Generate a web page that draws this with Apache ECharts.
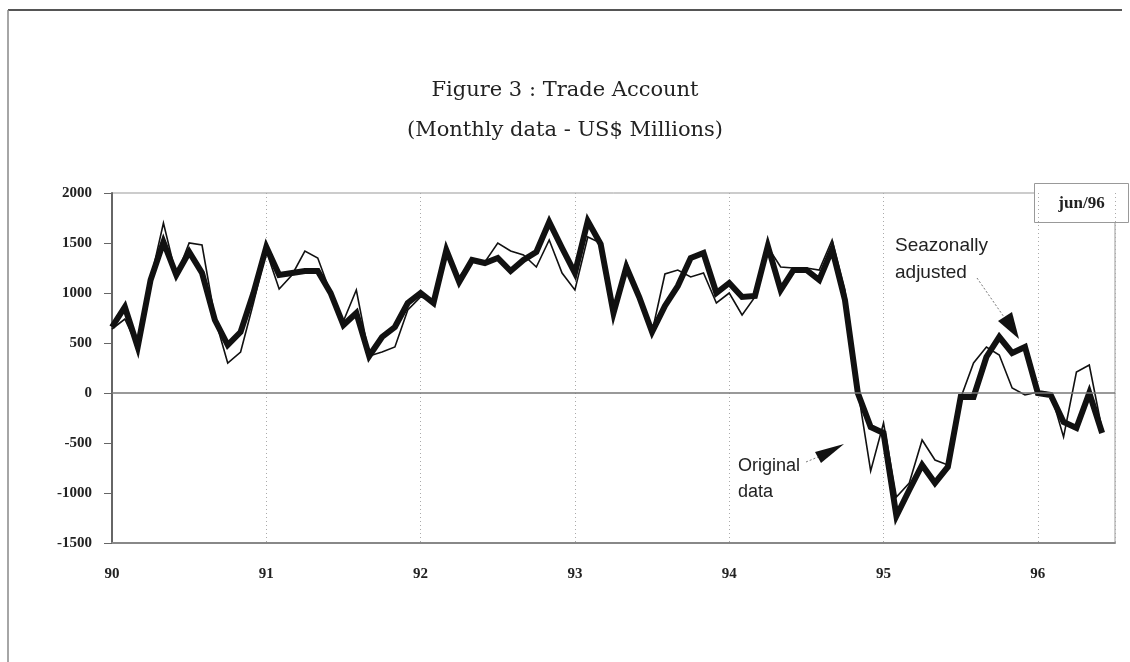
<!DOCTYPE html>
<html>
<head>
<meta charset="utf-8">
<script src="https://cdn.jsdelivr.net/npm/echarts@6/dist/echarts.min.js"></script>
<style>
  html, body { margin: 0; padding: 0; background: #fff; }
  #chart { width: 1130px; height: 662px; }
</style>
</head>
<body>
<div id="chart"></div>
<script>
// year tick labels on the x axis
const yearLabels = ["90", "91", "92", "93", "94", "95", "96"];
const firstYear = 90;

// monthly data jan/90 .. jun/96, US$ millions
const originalData = [
  640, 740, 460, 1130, 1700, 1170, 1500, 1480, 750, 300, 410, 900,
  1420, 1040, 1180, 1420, 1350, 1000, 720, 1030, 370, 410, 460, 830,
  960, 930, 1380, 1160, 1330, 1310, 1500, 1420, 1380, 1260, 1530, 1200,
  1030, 1560, 1500, 800, 1310, 960, 610, 1190, 1230, 1160, 1200, 900,
  1000, 780, 960, 1460, 1260, 1250, 1250, 1230, 1530, 1030, 30, -780,
  -300, -1040, -900, -470, -670, -720, -50, 300, 460, 380, 50, -20,
  10, 0, -440, 210, 280, -370
];
const adjustedData = [
  660, 860, 460, 1130, 1510, 1180, 1410, 1200, 730, 480, 610, 1000,
  1460, 1180, 1200, 1220, 1220, 1000, 680, 800, 370, 560, 660, 900,
  1000, 900, 1430, 1110, 1330, 1300, 1350, 1220, 1330, 1410, 1710, 1450,
  1200, 1720, 1490, 800, 1260, 960, 610, 870, 1070, 1350, 1400, 1000,
  1100, 960, 970, 1470, 1030, 1230, 1230, 1130, 1440, 930, 0, -340,
  -400, -1230, -970, -720, -900, -740, -40, -40, 360, 560, 400, 460,
  0, -20, -290, -350, 0, -400
];

// month index -> position on the year axis
const toPoints = arr => arr.map((v, i) => [firstYear + i / 12, v]);

const serif = "Liberation Serif";
const chart = echarts.init(document.getElementById("chart"));

const option = {
  backgroundColor: "#fff",
  animation: false,
  title: {
    text: "Figure 3 : Trade Account\n(Monthly data - US$ Millions)",
    left: "center",
    top: 66,
    textStyle: {
      fontFamily: "DejaVu Serif",
      fontSize: 21,
      fontWeight: "normal",
      color: "#222",
      lineHeight: 40
    }
  },
  grid: {
    left: 112,
    right: 15,
    top: 193,
    bottom: 119,
    show: true,
    borderColor: "#999",
    borderWidth: 1
  },
  xAxis: {
    type: "value",
    min: 90,
    max: 96.5,
    interval: 1,
    axisLine: { show: true, onZero: false, lineStyle: { color: "#888", width: 2 } },
    axisTick: { show: false },
    axisLabel: {
      margin: 24,
      fontFamily: serif,
      fontWeight: "bold",
      fontSize: 15,
      color: "#222",
      showMaxLabel: false,
      formatter: v => {
        const k = Math.round(v - firstYear);
        return Math.abs(v - firstYear - k) < 1e-6 && yearLabels[k] ? yearLabels[k] : "";
      }
    },
    splitLine: {
      show: true,
      lineStyle: { color: "#aaa", type: [1, 3], width: 1 }
    }
  },
  yAxis: {
    type: "value",
    min: -1500,
    max: 2000,
    interval: 500,
    axisLine: { show: true, onZero: false, lineStyle: { color: "#666", width: 2 } },
    axisTick: { show: true, inside: false, length: 8, lineStyle: { color: "#666" } },
    axisLabel: {
      margin: 20,
      fontFamily: serif,
      fontWeight: "bold",
      fontSize: 15,
      color: "#222",
      formatter: v => String(v)
    },
    splitLine: { show: false }
  },
  series: [
    {
      name: "Original data",
      type: "line",
      data: toPoints(originalData),
      showSymbol: false,
      lineStyle: { color: "#111", width: 1.6, join: "miter" },
      z: 3,
      markLine: {
        silent: true,
        symbol: "none",
        label: { show: false },
        lineStyle: { color: "#777", type: "solid", width: 1.5 },
        data: [{ yAxis: 0 }]
      }
    },
    {
      name: "Seazonally adjusted",
      type: "line",
      data: toPoints(adjustedData),
      showSymbol: false,
      lineStyle: { color: "#111", width: 6, join: "miter", cap: "butt" },
      z: 2
    }
  ],
  graphic: [
    // outer frame of the figure
    { type: "line", shape: { x1: 8, y1: 10, x2: 1122, y2: 10 }, style: { stroke: "#555", lineWidth: 2 } },
    { type: "line", shape: { x1: 8, y1: 10, x2: 8, y2: 662 }, style: { stroke: "#888", lineWidth: 1.5 } },
    // date box
    {
      type: "group",
      left: 1034,
      top: 183,
      z: 100,
      children: [
        { type: "rect", shape: { x: 0, y: 0, width: 94, height: 39 }, style: { fill: "#fff", stroke: "#999", lineWidth: 1 } },
        {
          type: "text",
          x: 47, y: 20,
          style: {
            text: "jun/96", fontFamily: serif, fontWeight: "bold", fontSize: 17,
            fill: "#222", align: "center", verticalAlign: "middle"
          }
        }
      ]
    },
    // annotation: seasonally adjusted
    {
      type: "text", left: 895, top: 232, z: 100,
      style: { text: "Seazonally\nadjusted", fontFamily: "Liberation Sans", fontSize: 19, lineHeight: 27, fill: "#222" }
    },
    { type: "line", z: 100, shape: { x1: 977, y1: 278, x2: 1004, y2: 317 }, style: { stroke: "#777", lineWidth: 1, lineDash: [2, 2] } },
    { type: "polygon", z: 100, shape: { points: [[998, 321], [1012, 312], [1019, 339]] }, style: { fill: "#111" } },
    // annotation: original data
    {
      type: "text", left: 738, top: 453, z: 100,
      style: { text: "Original\ndata", fontFamily: "Liberation Sans", fontSize: 18, lineHeight: 26, fill: "#222" }
    },
    { type: "line", z: 100, shape: { x1: 806, y1: 462, x2: 818, y2: 457 }, style: { stroke: "#777", lineWidth: 1, lineDash: [2, 2] } },
    { type: "polygon", z: 100, shape: { points: [[815, 452], [821, 463], [844, 444]] }, style: { fill: "#111" } }
  ]
};

chart.setOption(option);
</script>
</body>
</html>
